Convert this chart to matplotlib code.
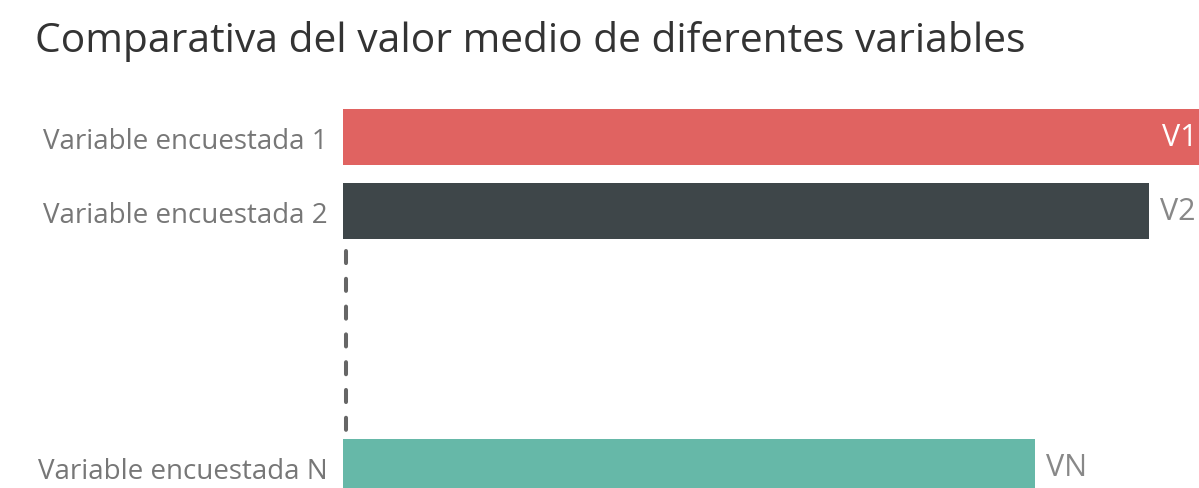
import matplotlib
matplotlib.use("Agg")
import matplotlib.pyplot as plt

categories = ["Variable encuestada 1", "Variable encuestada 2", "Variable encuestada N"]
values = [102.0, 94.2, 80.8]
value_labels = ["V1", "V2", "VN"]
colors = ["#E06361", "#3E4649", "#66B8A8"]

plt.rcParams['font.family'] = ['Open Sans', 'DejaVu Sans']

W, H = 1199, 489
fig = plt.figure(figsize=(W / 100, H / 100), dpi=100)
left = 343 / W
top_px = 100
ax = fig.add_axes([left, 0, 1 - left, (H - top_px) / H])

ypos = [0, 1, 4.46]
ax.barh(ypos, values, height=0.757, color=colors, edgecolor="none")
ax.set_xlim(0, 100)
ax.set_ylim(4.743, -0.514)

ax.set_yticks(ypos)
ax.set_yticklabels(categories, fontsize=20, color="#777777")
ax.tick_params(axis="y", length=0, pad=11)
ax.set_xticks([])
for s in ax.spines.values():
    s.set_visible(False)

xmax = ax.get_xlim()[1]
for y, v, lab in zip(ypos, values, value_labels):
    if v >= xmax:
        ax.text(xmax - 0.15, y, lab, ha="right", va="center", fontsize=22, color="white")
    else:
        ax.text(v + 1.3, y, lab, ha="left", va="center", fontsize=22, color="#888888")

ax.plot([0.35, 0.35], [1.54, 3.99], color="#666666", linewidth=2.9,
        linestyle=(0, (3.0, 3.9)), dash_capstyle="round", solid_capstyle="round",
        clip_on=False)

fig.text(35 / W, 1 - 41 / H, "Comparativa del valor medio de diferentes variables",
         fontsize=29.3, color="#333333", ha="left", va="center")

fig.savefig("out.png", dpi=100)
